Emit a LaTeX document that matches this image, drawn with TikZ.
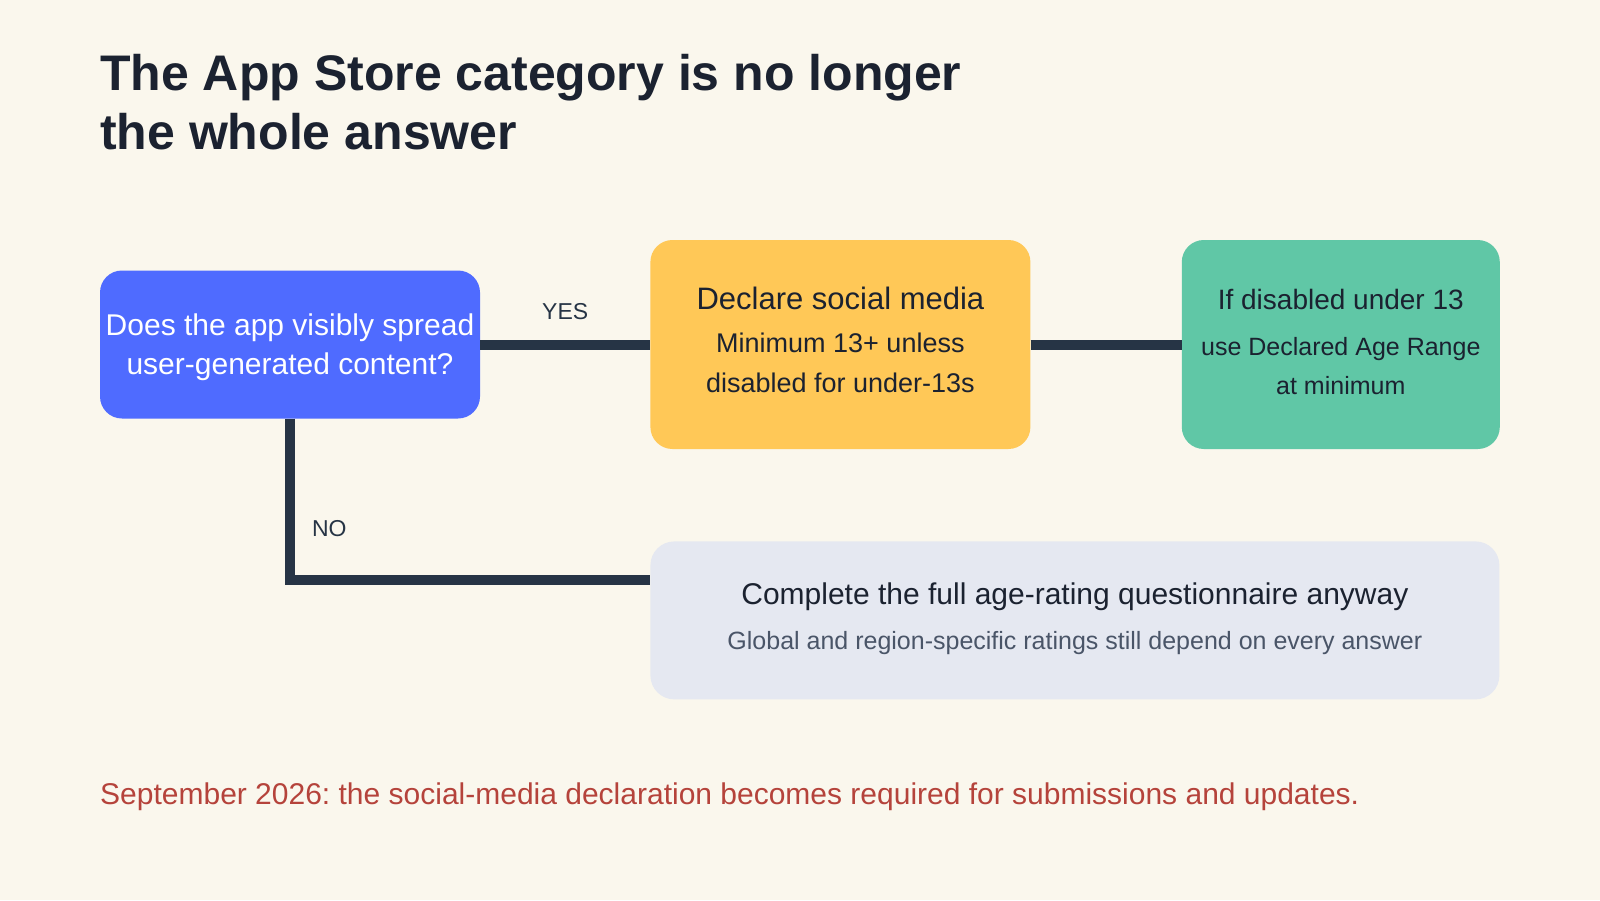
\documentclass[tikz,border=0pt]{standalone}
\usepackage{fontspec}
\setmainfont{Liberation Sans}
\usetikzlibrary{positioning}
\frenchspacing

\definecolor{pagebg}{HTML}{FAF7ED}
\definecolor{ink}{HTML}{1B2230}
\definecolor{linkdark}{HTML}{263445}
\definecolor{askblue}{HTML}{4F6BFF}
\definecolor{socialyel}{HTML}{FFC857}
\definecolor{rangegreen}{HTML}{60C7A6}
\definecolor{fullgrey}{HTML}{E5E8F1}
\definecolor{subgrey}{HTML}{4A5568}
\definecolor{notered}{HTML}{B5433B}

\newcommand{\fsz}[2]{\fontsize{#1pt}{#2pt}\selectfont}

\begin{document}
\begin{tikzpicture}[x=1pt,y=-1pt,
		box/.style={rounded corners=22pt,inner sep=0pt,align=center,text=ink},
		askbox/.style={box,fill=askblue,text=white,minimum width=380pt,minimum height=148pt,font=\fsz{30}{39},text depth=1.5pt},
		socialbox/.style={box,fill=socialyel,minimum width=380pt,minimum height=209pt,font=\fsz{27}{40},text depth=10pt},
		rangebox/.style={box,fill=rangegreen,minimum width=318pt,minimum height=209pt,font=\fsz{25}{39},text depth=6pt},
		fullbox/.style={box,rounded corners=24pt,fill=fullgrey,minimum width=849pt,minimum height=158pt,font=\fsz{25}{45},text depth=8.5pt},
		link/.style={draw=linkdark,line width=10pt},
		lbl/.style={text=linkdark,font=\fsz{23}{28},inner sep=0pt}]
	\useasboundingbox (0,0) rectangle (1600,900);
	\fill[pagebg] (0,0) rectangle (1600,900);

	% heading and footnote
	\node[anchor=north west,inner sep=0pt,align=left,text=ink,font=\fsz{50}{59}\bfseries] (title) at (100,54)
		{\fsz{50}{59}\bfseries The App Store category is no longer\\\fsz{50}{59}\bfseries the whole answer};
	\node[anchor=base west,inner sep=0pt,text=notered,font=\fsz{30}{36}] (note) at (100,804)
		{September 2026: the social-media declaration becomes required for submissions and updates.};

	% decision boxes
	\node[askbox] (ask) at (290,344.5) {\fsz{30}{39}Does the app visibly spread\\\fsz{30}{39}user-generated content?};
	\node[socialbox] [right=170pt of ask] (social)
		{\fsz{31}{40}Declare social media\\[3pt]\fsz{27}{40}Minimum 13+ unless\\\fsz{27}{40}disabled for under-13s};
	\node[rangebox] [right=151pt of social] (range)
		{\fsz{28}{39}If disabled under 13\\[7pt]\fsz{25}{39}use Declared Age Range\\\fsz{25}{39}at minimum};
	\node[fullbox] [below=92pt of social.south west,anchor=north west] (full)
		{\fsz{30}{45}Complete the full age-rating questionnaire anyway\\\fsz{25}{45}\color{subgrey}Global and region-specific ratings still depend on every answer};
	\coordinate (noend) at ([yshift=40pt]full.west);

	% connectors
	\draw[link] (ask) -- node[lbl,above=20pt] {YES} (social);
	\draw[link] (social) -- (range);
	\draw[link] (ask.south) |- node[lbl,pos=0.34,right=17pt] {NO} (noend);
\end{tikzpicture}
\end{document}
